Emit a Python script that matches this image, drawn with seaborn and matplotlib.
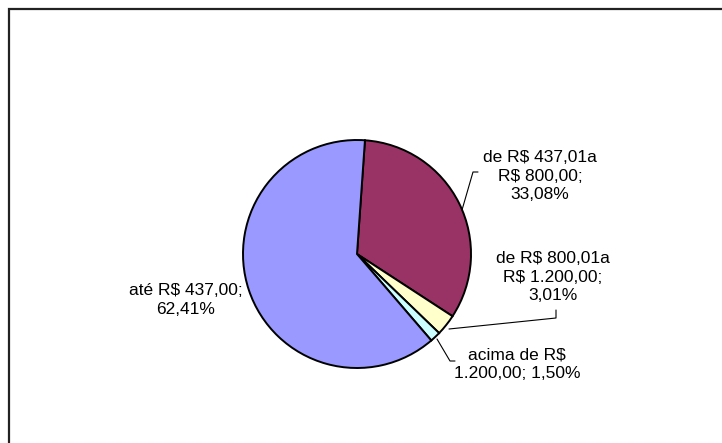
import matplotlib
matplotlib.use("Agg")
import matplotlib.pyplot as plt
import seaborn as sns
from matplotlib.patches import Rectangle

# ---- data ----
categories = ["de R$ 437,01a\nR$ 800,00", "de R$ 800,01a\nR$ 1.200,00",
              "acima de R$\n1.200,00", "até R$ 437,00"]
values = [33.08, 3.01, 1.50, 62.41]
colors = ["#993366", "#FFFFCC", "#CCFFFF", "#9999FF"]
label_texts = ["de R$ 437,01a\nR$ 800,00;\n33,08%",
               "de R$ 800,01a\nR$ 1.200,00;\n3,01%",
               "acima de R$\n1.200,00; 1,50%",
               "até R$ 437,00;\n62,41%"]

sns.set_theme(style="white")
plt.rcParams["font.family"] = ["Liberation Sans", "DejaVu Sans"]

W, H = 722, 443
fig = plt.figure(figsize=(W / 100, H / 100), dpi=100)
fig.patch.set_facecolor("white")
ax = fig.add_axes([0, 0, 1, 1])

def Y(py):
    return H - py

ax.pie(values, colors=colors, startangle=86, counterclock=False,
       center=(357, Y(254)), radius=114, frame=True,
       wedgeprops=dict(edgecolor="black", linewidth=1.4))
ax.set_xlim(0, W)
ax.set_ylim(0, H)
ax.set_aspect("equal")
ax.axis("off")

# chart border (extends past right / bottom edges)
ax.add_patch(Rectangle((8.5, -20), W + 20, Y(8.5) + 20, fill=False,
                       edgecolor="#222222", linewidth=1.6, zorder=0))

# labels
label_pos = [(540, 176), (553, 277), (517, 364), (186, 300)]
for txt, (x, y) in zip(label_texts, label_pos):
    ax.text(x, Y(y), txt, ha="center", va="center", multialignment="center",
            fontsize=12.5, linespacing=1.3, color="black")

# leader lines
leaders = [
    [(478, 172), (473, 172), (462, 210)],
    [(556, 310), (556, 318), (449, 329)],
    [(437, 339), (450, 361), (455, 361)],
]
for pts in leaders:
    xs = [p[0] for p in pts]
    ys = [Y(p[1]) for p in pts]
    ax.plot(xs, ys, color="black", linewidth=0.8)

fig.savefig("out.png", dpi=100, facecolor="white")
